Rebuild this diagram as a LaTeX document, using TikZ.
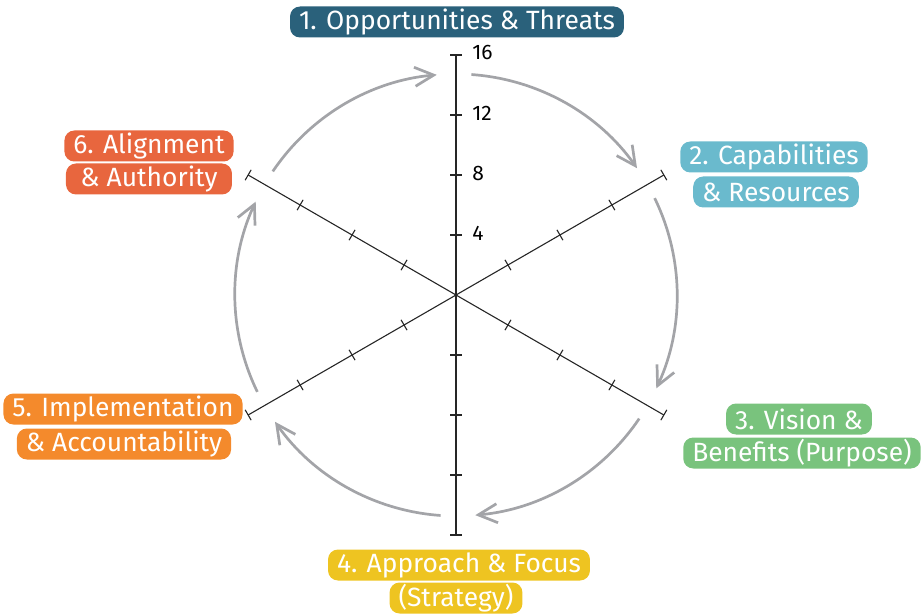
\documentclass[tikz,border=0pt]{standalone}
\usepackage{fontspec}
\setmainfont{Fira Sans}
\usepackage{tikz}
\usetikzlibrary{arrows.meta}

\definecolor{cOpp}{HTML}{2A617B}
\definecolor{cCap}{HTML}{6ABACD}
\definecolor{cVis}{HTML}{79C37D}
\definecolor{cApp}{HTML}{EEC421}
\definecolor{cImp}{HTML}{F48A2C}
\definecolor{cAli}{HTML}{E8663E}
\definecolor{cFlow}{HTML}{A3A4A8}

\tikzset{
  lbl/.style={fill=#1, text=white, rounded corners=5pt, inner xsep=4.5pt,
    inner ysep=0pt, minimum height=15.5pt, font=\fontsize{13.2}{15}\selectfont},
  axis/.style={draw=black!85, line width=0.55pt},
  flow/.style={draw=cFlow, line width=1.35pt,
    -{Straight Barb[length=9.5pt,width=9.5pt]}},
}

\begin{document}
\begin{tikzpicture}[x=0.5pt,y=0.5pt]
\useasboundingbox (-456,-320) rectangle (468,295);
\coordinate (O) at (0,0);
% axes
\draw[axis] (0,-240) -- (0,240);
\foreach \a in {30,150,210,330}
  \draw[axis] (O) -- (\a:240);
% ticks
\foreach \r in {60,120,180,240} {
  \draw[axis] (-6,\r) -- (6,\r);
  \draw[axis] (-6,-\r) -- (6,-\r);
  \foreach \a in {30,150,210,330}
    \draw[axis,rotate=\a] (\r,-6) -- (\r,6);
}
\foreach \r/\v in {60/4,120/8,180/12,240/16}
  \node[anchor=west, inner sep=0pt, font=\fontsize{10.5}{12}\selectfont] (n\v) at (16,\r+2) {\v};
% cycle
\foreach \t in {90,30,-30,-90,-150,-210}
  \draw[flow] (\t-4:221) arc[start angle=\t-4, end angle=\t-55, radius=221];
% labels
\node[lbl=cOpp] (opp) at (1,273) {1. Opportunities \& Threats};
\node[lbl=cCap] (cap1) at (318,138) {2. Capabilities};
\node[lbl=cCap] (cap2) at (320,103) {\& Resources};
\node[lbl=cVis] (vis1) at (343,-124) {3. Vision \&};
\node[lbl=cVis] (vis2) at (346,-158) {Benefits (Purpose)};
\node[lbl=cApp] (app1) at (3,-270) {4. Approach \& Focus};
\node[lbl=cApp] (app2) at (0,-303) {(Strategy)};
\node[lbl=cImp] (imp1) at (-333,-114) {5. Implementation};
\node[lbl=cImp] (imp2) at (-332,-149) {\& Accountability};
\node[lbl=cAli] (ali1) at (-307,149) {6. Alignment};
\node[lbl=cAli, minimum width=83pt] (ali2) at (-307,116) {\& Authority};
\end{tikzpicture}
\end{document}
